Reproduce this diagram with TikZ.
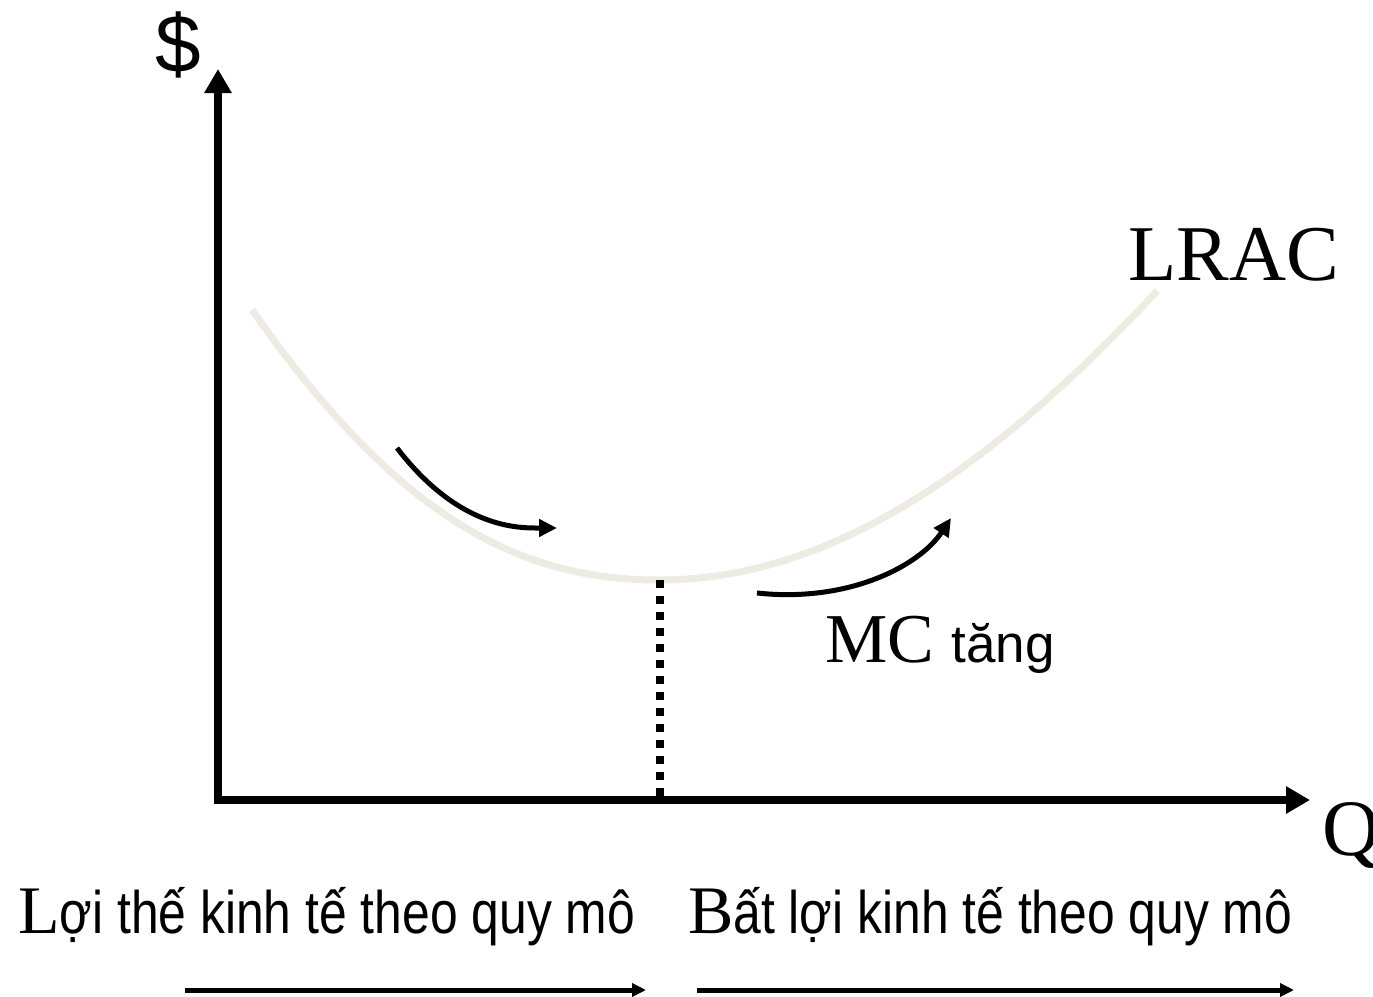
\documentclass[tikz,border=0pt]{standalone}
\usepackage{fontspec}
\setmainfont{Liberation Serif}
\newfontfamily\sansf{Liberation Sans}
\newfontfamily\narrowsans[FakeStretch=0.83]{Liberation Sans}
\usetikzlibrary{arrows.meta}
\definecolor{curvecol}{HTML}{EDEBE2}
\tikzset{
	axis/.style={line width=8pt,-{Triangle[length=24pt,width=26pt]}},
	move/.style={line width=5pt,-{Triangle[length=18pt,width=17pt]}},
	scalearrow/.style={line width=5pt,-{Triangle[length=14pt,width=13pt]}},
	big/.style={inner sep=0pt,font=\fontsize{64}{70}\selectfont},
}
\begin{document}
\begin{tikzpicture}[x=1pt,y=-1pt]
	\useasboundingbox (0,0) rectangle (1373,996);
	\coordinate (O) at (218,800);
	\coordinate (Ytop) at (218,69);
	\coordinate (Xend) at (1310,800);
	\coordinate (Cstart) at (252,310);
	\coordinate (Cmin) at (660,580);
	\coordinate (Cend) at (1157,291);
	\coordinate (Qmin) at (660,796);
	\draw[axis] ([yshift=4pt]O)--(Ytop);
	\draw[axis] ([xshift=-4pt]O)--(Xend);
	\draw[curvecol,line width=7pt] (Cstart) .. controls (400,520) and (520,580) .. (Cmin)
		.. controls (830,580) and (990,470) .. (Cend);
	\draw[line width=8pt,dash pattern=on 8pt off 8pt] (Cmin)--(Qmin);
	\coordinate (A1s) at (397,448);
	\coordinate (A1e) at (557,528);
	\coordinate (A2s) at (757,593);
	\coordinate (A2e) at (951,518);
	\draw[move] (A1s) .. controls (460,530) and (520,528) .. (A1e);
	\draw[move] (A2s) .. controls (850,603) and (920,565) .. (A2e);
	\node[big] (dollar) at (178,45) {\sansf\fontsize{82}{90}\selectfont\$};
	\node[big,anchor=base west] (lrac) at (1128,280) {\fontsize{79}{90}\selectfont LRAC};
	\node[big,anchor=base west] (q) at (1322,855) {\fontsize{80}{90}\selectfont Q};
	\node[big,anchor=base west] (mc) at (825,662) {\fontsize{70}{80}\selectfont MC {\sansf\fontsize{53}{60}\selectfont tăng}};
	\node[big,anchor=base west] (eos) at (18,933) {\fontsize{68}{70}\selectfont L{\narrowsans\fontsize{60}{60}\selectfont ợi thế kinh tế theo quy mô}};
	\node[big,anchor=base west] (dis) at (688,933) {\fontsize{68}{70}\selectfont B{\narrowsans\fontsize{60}{60}\selectfont ất lợi kinh tế theo quy mô}};
	\coordinate (L1s) at (185,990);
	\coordinate (L1e) at (646,990);
	\coordinate (L2s) at (697,990);
	\coordinate (L2e) at (1294,990);
	\draw[scalearrow] (L1s)--(L1e);
	\draw[scalearrow] (L2s)--(L2e);
\end{tikzpicture}
\end{document}
